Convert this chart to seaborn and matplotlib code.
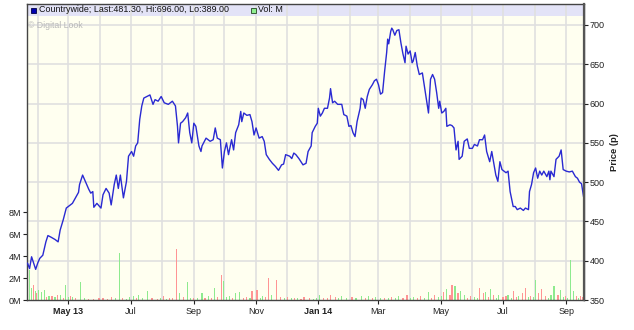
import numpy as np
import pandas as pd
import matplotlib
matplotlib.use('Agg')
import matplotlib.pyplot as plt
from matplotlib.patches import Rectangle
from matplotlib.transforms import blended_transform_factory
import seaborn as sns

# ---------------- data ----------------
start_date = '2013-03-22'

price_day = [0, 2, 4, 6, 8, 10, 12, 15, 18, 20, 23, 27, 30, 32, 35, 38, 41, 44, 47, 50,
             51, 54, 57, 60, 62, 64, 65, 68, 72, 74, 77, 80, 82, 85, 87, 89, 91, 94, 97, 99,
             102, 104, 106, 108, 110, 112, 114, 117, 120, 123, 125, 128, 131, 134, 138, 142, 145, 147, 148, 150,
             152, 155, 157, 159, 161, 163, 165, 168, 170, 171, 175, 179, 182, 184, 186, 189, 191, 193, 195, 197,
             200, 202, 204, 207, 209, 210, 212, 215, 218, 220, 222, 224, 227, 230, 232, 234, 237, 240, 243, 246,
             249, 251, 253, 257, 259, 261, 263, 266, 269, 270, 273, 275, 278, 279, 282, 284, 285, 287, 289, 291,
             294, 296, 297, 299, 301, 304, 308, 310, 313, 315, 317, 319, 321, 323, 326, 327, 329, 331, 333, 335,
             338, 340, 342, 344, 346, 348, 350, 352, 353, 354, 356, 357, 358, 360, 362, 364, 366, 368, 370, 371,
             373, 375, 377, 378, 380, 382, 384, 387, 389, 391, 393, 395, 397, 399, 401, 403, 404, 406, 408, 410,
             411, 414, 416, 418, 420, 422, 423, 426, 428, 431, 433, 436, 438, 441, 443, 446, 448, 450, 453, 455,
             457, 459, 461, 463, 465, 469, 471, 473, 476, 478, 480, 483, 486, 488, 491, 492, 494, 496, 498, 500,
             502, 504, 506, 509, 511, 512, 513, 516, 518, 521, 523, 525, 528, 531, 534, 537, 539, 541, 543, 545]

price = [397, 390, 405, 397, 389, 397, 403, 407, 424, 432, 430, 427, 424, 439, 452, 467, 470, 473, 480, 487,
         497, 509, 500, 491, 486, 488, 468, 473, 467, 484, 492, 486, 471, 497, 509, 492, 509, 480, 501, 533,
         539, 533, 546, 550, 580, 597, 607, 609, 611, 599, 605, 603, 609, 601, 599, 603, 597, 571, 550, 575,
         577, 582, 588, 563, 550, 575, 571, 546, 539, 546, 556, 552, 554, 569, 556, 554, 518, 539, 550, 535,
         554, 541, 563, 573, 590, 577, 588, 585, 586, 577, 560, 569, 556, 558, 552, 535, 529, 524, 520, 515,
         522, 523, 535, 533, 530, 537, 535, 530, 524, 522, 524, 539, 546, 563, 571, 575, 594, 584, 588, 594,
         594, 607, 619, 601, 603, 599, 599, 586, 584, 571, 572, 563, 558, 577, 594, 607, 605, 594, 609, 618,
         624, 629, 631, 624, 612, 614, 641, 665, 682, 676, 692, 696, 694, 687, 693, 694, 677, 663, 652, 673,
         663, 667, 652, 654, 665, 648, 637, 639, 622, 605, 588, 631, 637, 631, 614, 594, 603, 588, 590, 594,
         571, 573, 572, 569, 541, 552, 529, 533, 552, 555, 543, 543, 548, 546, 554, 554, 560, 539, 526, 539,
         524, 509, 501, 526, 516, 512, 514, 488, 469, 469, 465, 467, 464, 467, 465, 488, 497, 512, 518, 505,
         514, 509, 514, 507, 514, 503, 514, 507, 529, 533, 541, 516, 514, 513, 514, 507, 505, 500, 498, 481.3]

vol_day = [0, 2, 4, 6, 8, 9, 11, 14, 17, 19,
           21, 24, 27, 29, 32, 35, 37, 40, 42, 44,
           47, 52, 56, 60, 65, 70, 74, 78, 82, 86,
           90, 93, 97, 100, 104, 107, 109, 113, 118, 122,
           127, 130, 133, 136, 139, 142, 146, 149, 153, 157,
           160, 163, 167, 171, 174, 177, 180, 183, 186, 190,
           192, 195, 198, 201, 204, 208, 212, 215, 218, 220,
           225, 228, 230, 233, 236, 239, 244, 248, 252, 255,
           259, 262, 265, 268, 271, 276, 280, 283, 286, 290,
           294, 297, 302, 305, 308, 313, 318, 322, 327, 331,
           334, 338, 341, 346, 350, 354, 357, 361, 364, 368,
           372, 375, 378, 382, 385, 389, 393, 396, 399, 403,
           406, 408, 411, 414, 416, 419, 422, 424, 428, 431,
           434, 438, 441, 443, 447, 449, 452, 454, 457, 460,
           462, 466, 469, 471, 474, 476, 479, 481, 485, 488,
           491, 493, 496, 498, 501, 504, 508, 511, 513, 516,
           520, 522, 525, 527, 529, 532, 535, 538, 540, 542, 544]

vol_m = [6.4, 2.7, 1.1, 1.35, 0.8, 0.6, 0.9, 0.75, 0.9, 0.3,
         0.4, 0.35, 0.25, 0.5, 0.5, 0.2, 1.35, 0.25, 0.35, 0.3,
         0.15, 1.6, 0.2, 0.1, 0.1, 0.15, 0.2, 0.1, 0.3, 0.15,
         4.3, 0.15, 0.1, 0.3, 0.35, 0.2, 0.45, 0.15, 0.85, 0.15,
         0.1, 0.2, 0.4, 0.1, 0.2, 0.15, 4.6, 0.6, 0.3, 1.6,
         0.2, 0.2, 0.15, 0.6, 0.2, 0.35, 0.15, 1.1, 0.3, 2.25,
         1.75, 0.25, 0.4, 0.2, 0.65, 0.7, 0.15, 0.3, 0.2, 0.85,
         0.95, 0.2, 0.35, 0.25, 2.0, 0.5, 1.85, 0.3, 0.15, 0.3,
         0.15, 0.2, 0.2, 0.1, 0.3, 0.15, 0.1, 0.2, 0.5, 0.15,
         0.2, 0.5, 0.25, 0.15, 0.35, 0.2, 0.25, 0.15, 0.35, 0.2,
         0.4, 0.15, 0.3, 0.2, 0.15, 0.2, 0.3, 0.15, 0.35, 0.2,
         0.5, 0.2, 0.3, 0.15, 0.35, 0.2, 0.7, 0.2, 0.5, 0.3,
         0.35, 0.7, 1.0, 0.45, 1.35, 1.3, 0.65, 0.8, 0.5, 0.2,
         0.35, 0.3, 0.2, 1.1, 0.65, 0.7, 0.3, 1.0, 0.5, 0.2,
         0.5, 0.25, 0.4, 0.5, 0.2, 0.8, 0.3, 0.4, 0.65, 1.1,
         0.3, 0.4, 0.3, 1.8, 0.6, 1.0, 0.35, 0.2, 0.45, 1.3,
         0.5, 0.9, 0.3, 0.4, 0.2, 3.6, 0.8, 0.35, 0.2, 0.4, 0.3]

vol_up = [0, 1, 1, 0, 1, 0, 1, 1, 1, 0,
          1, 0, 1, 0, 1, 0, 1, 1, 0, 1,
          0, 1, 1, 0, 0, 0, 0, 0, 0, 1,
          1, 0, 1, 1, 1, 0, 1, 1, 1, 0,
          0, 1, 0, 1, 0, 0, 0, 1, 0, 1,
          1, 0, 1, 1, 0, 1, 0, 1, 0, 0,
          1, 1, 1, 0, 1, 1, 0, 0, 1, 0,
          0, 1, 1, 0, 0, 1, 0, 0, 1, 0,
          1, 0, 1, 0, 0, 0, 1, 1, 1, 0,
          0, 0, 0, 1, 1, 1, 0, 1, 1, 0,
          1, 0, 1, 1, 0, 1, 0, 1, 1, 0,
          0, 1, 1, 0, 0, 1, 1, 0, 0, 1,
          1, 0, 1, 0, 0, 1, 0, 1, 1, 0,
          0, 1, 1, 0, 0, 1, 0, 1, 0, 1,
          1, 0, 0, 1, 1, 0, 0, 1, 0, 0,
          1, 0, 1, 1, 0, 0, 0, 1, 1, 1,
          0, 1, 1, 0, 1, 1, 1, 0, 1, 0, 0]

price_ticks = [350, 400, 450, 500, 550, 600, 650, 700]
vol_ticks = [0, 2, 4, 6, 8]
vol_tick_labels = ['0M', '2M', '4M', '6M', '8M']
month_label_dates = ['2013-05-01', '2013-07-01', '2013-09-01', '2013-11-01', '2014-01-01',
                     '2014-03-01', '2014-05-01', '2014-07-01', '2014-09-01']
month_labels = ['May 13', 'Jul', 'Sep', 'Nov', 'Jan 14', 'Mar', 'May', 'Jul', 'Sep']
bold_labels = ['May 13', 'Jan 14']
header_text = 'Countrywide; Last:481.30, Hi:696.00, Lo:389.00'
vol_legend_text = 'Vol: M'
watermark_text = '\u00a9 Digital Look'

# ---------------- build ----------------
base = pd.Timestamp(start_date)
price_df = pd.DataFrame({'date': base + pd.to_timedelta(price_day, unit='D'), 'price': price})
vol_df = pd.DataFrame({'date': base + pd.to_timedelta(vol_day, unit='D'), 'vol': vol_m, 'up': vol_up})

sns.set_theme(style='white')
plt.rcParams['font.family'] = ['Liberation Sans', 'DejaVu Sans']

W, H = 634, 330
fig = plt.figure(figsize=(W / 100, H / 100), dpi=100)
fig.patch.set_facecolor('white')

ax = fig.add_axes([27 / W, 30 / H, 557 / W, 296 / H])
axp = ax.twinx()
ax.set_facecolor('#FFFFF0')

x0 = pd.Timestamp('2013-03-21 12:00')
x1 = pd.Timestamp('2014-09-18 10:00')
p_top = 350 + 296 / (275 / 350)
v_top = 296 / 11.0

# header band
ax.add_patch(Rectangle((0, 1 - 12 / 296), 1, 12 / 296, transform=ax.transAxes,
                       facecolor='#E3E3F7', edgecolor='none', zorder=0.2))

# monthly vertical gridlines
for d in pd.date_range('2013-04-01', '2014-09-01', freq='MS'):
    ax.axvline(d, color='#E0E0E0', lw=1.2, zorder=0.5)
# price gridlines
tr = blended_transform_factory(ax.transAxes, axp.transData)
for p in price_ticks[1:]:
    ax.plot([0, 1], [p, p], transform=tr, color='#E0E0E0', lw=1.2, zorder=0.5)

# volume bars
colors = ['#8EEA8E' if u else '#FF9494' for u in vol_df['up']]
ax.bar(vol_df['date'], vol_df['vol'], width=1.15, color=colors, linewidth=0, zorder=1,
       antialiased=False)

# price line
sns.lineplot(data=price_df, x='date', y='price', ax=axp, color='#2A2AD2', linewidth=1.0,
             estimator=None, sort=False)

ax.set_xlim(x0, x1)
ax.set_ylim(0, v_top)
axp.set_ylim(350, p_top)
axp.set_xlim(x0, x1)

# axes styling
ax.set_xticks(pd.to_datetime(month_label_dates))
ax.set_xticklabels(month_labels)
for t in ax.get_xticklabels():
    if t.get_text() in bold_labels:
        t.set_fontweight('bold')
ax.set_yticks(vol_ticks)
ax.set_yticklabels(vol_tick_labels)
ax.tick_params(axis='x', bottom=True, direction='out', length=3, width=0.8, pad=2,
               labelsize=6.5, colors='#222222')
ax.tick_params(axis='y', left=True, direction='out', length=3, width=0.8, pad=1,
               labelsize=6.5, colors='#222222')
axp.set_yticks(price_ticks)
axp.tick_params(axis='y', right=True, left=False, direction='out', length=3, width=0.8, pad=1,
                labelsize=6.5, colors='#222222')
axp.set_xlabel('')
ax.set_xlabel('')
ax.set_ylabel('')
axp.set_ylabel('Price (p)', fontsize=6.8, fontweight='bold', labelpad=4, color='#222222')

for s in ax.spines.values():
    s.set_color('#444444')
    s.set_linewidth(1.0)
for name, s in axp.spines.items():
    s.set_visible(name == 'right')
axp.spines['right'].set_color('#555555')
axp.spines['right'].set_linewidth(1.6)
ax.grid(False)
axp.grid(False)

# header legend
fig.patches.append(Rectangle((31 / W, 1 - 12.5 / H), 5 / W, 5 / H, transform=fig.transFigure,
                             facecolor='#0000B0', edgecolor='#000044', lw=0.6, figure=fig))
fig.text(39 / W, 1 - 10 / H, header_text, fontsize=6.4, va='center', ha='left', color='#111111')
fig.patches.append(Rectangle((250.5 / W, 1 - 12.5 / H), 5 / W, 5 / H, transform=fig.transFigure,
                             facecolor='#90EE90', edgecolor='#224422', lw=0.6, figure=fig))
fig.text(258 / W, 1 - 10 / H, vol_legend_text, fontsize=6.4, va='center', ha='left', color='#111111')
fig.text(28.5 / W, 1 - 25.5 / H, watermark_text, fontsize=6.3, va='center', ha='left', color='#B8B8B8')

fig.savefig('out.png', dpi=100)
